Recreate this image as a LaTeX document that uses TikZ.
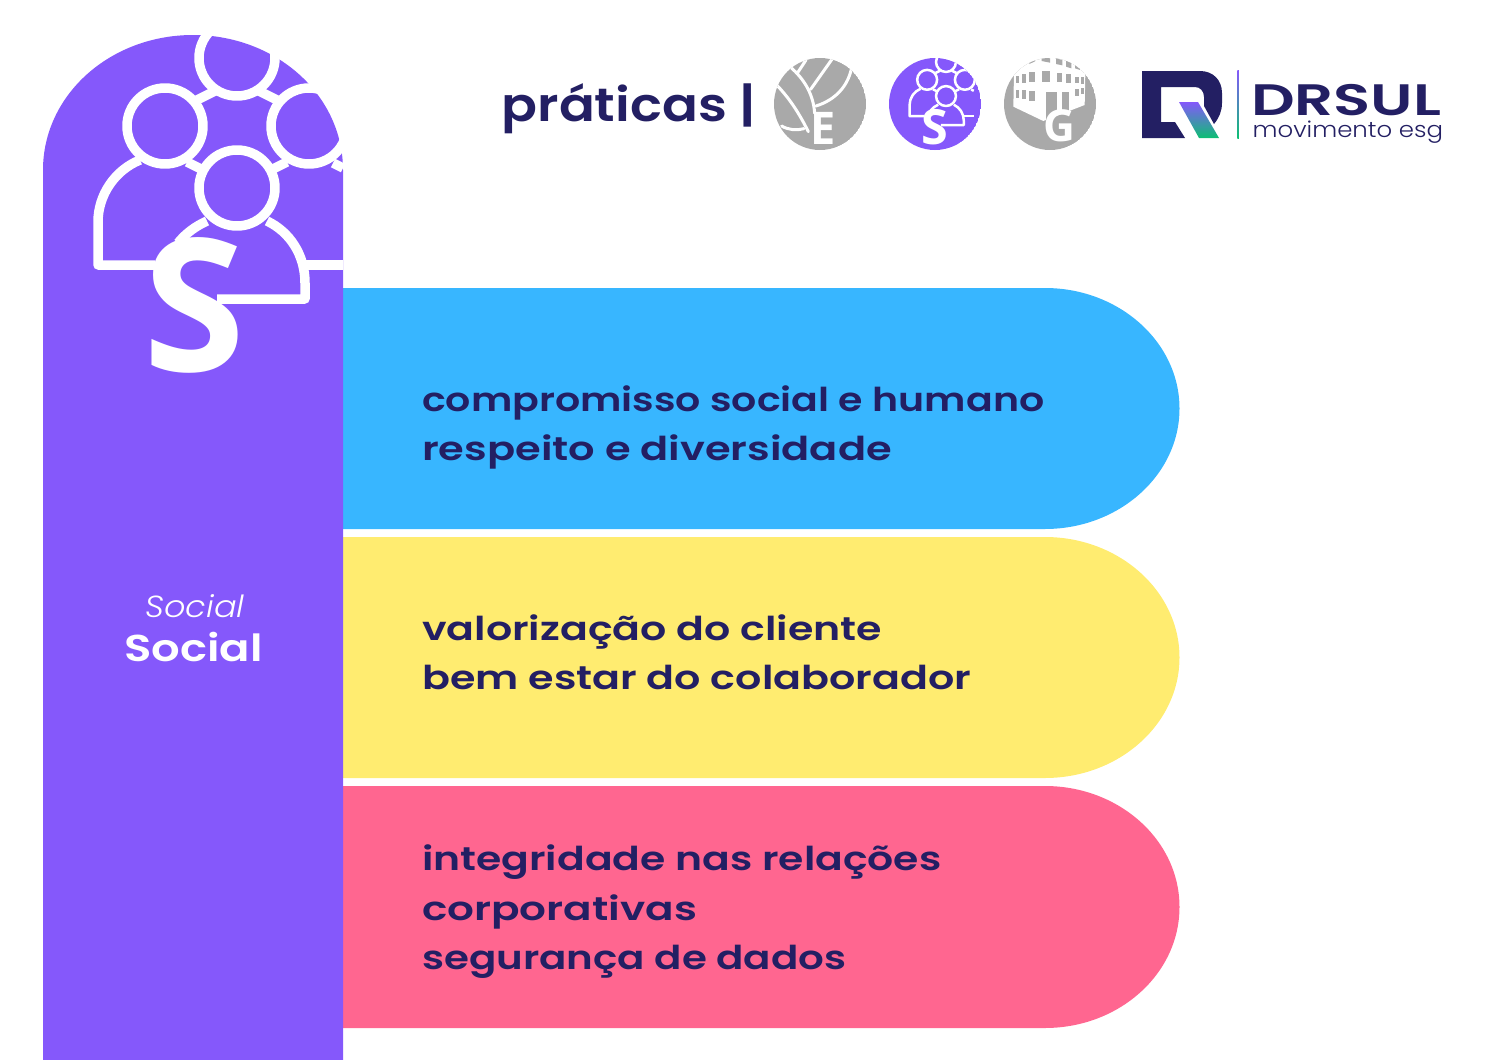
\documentclass[tikz,border=0pt]{standalone}
\usepackage{fontspec}
\usepackage{graphicx}
\usetikzlibrary{shadings}
\setmainfont{Poppins}
\newfontfamily\heavy{Poppins SemiBold}[FakeStretch=1.2]
\newfontfamily\heavyb{Poppins SemiBold}[FakeStretch=1.135]
\newfontfamily\heavyc{Poppins SemiBold}[FakeStretch=1.384]
\newfontfamily\thin{Poppins Light}[FakeStretch=1.11]
\newfontfamily\thinit{Poppins Light Italic}[FakeStretch=1.1]
\newfontfamily\opb{Open Sans Bold}
\definecolor{vio}{HTML}{8558FB}
\definecolor{sky}{HTML}{38B6FF}
\definecolor{lem}{HTML}{FFEC70}
\definecolor{ros}{HTML}{FF6690}
\definecolor{navy}{HTML}{231F63}
\definecolor{gry}{HTML}{A9A9A9}
\definecolor{grn}{HTML}{0DBF73}
\tikzset{
  item/.style={anchor=base west,inner sep=0pt,text=navy,font=\heavy\fontsize{32.9}{33}\selectfont},
  win/.style={fill=gry,draw=none},
  leaf/.style={draw=white,line width=3pt,line cap=round},
}
\newcommand{\sx}[2]{\scalebox{#1}[1]{#2}}
\newcommand{\peopleicon}[2]{%
  \begin{scope}[draw=white,line width=#1,line join=round,line cap=butt]
  \draw (237,58) circle (38);
  \draw (165,126) circle (38);
  \draw (309,126) circle (38);
  \draw (237,188) circle (38);
  \draw (140,160) .. controls (115,170) and (98,195) .. (98,222) -- (98,265) -- (155,265);
  \draw (333,163) -- (343,168);
  \draw (305,265) -- (343,265);
  \draw (197,100) -- (215,91);
  \draw (259,91) -- (277,100);
  \draw (187,162) -- (203,170);
  \draw (271,170) -- (287,162);
  \draw (207,221) .. controls (196,226) and (186,233) .. (178,243);
  \draw (267,221) .. controls (290,232) and (305,255) .. (305,283) -- (305,299) -- (217,299);
  \end{scope}
  \node[text=white,inner sep=0pt,transform shape] (#2) at (194,305) {\opb\fontsize{185}{185}\selectfont S};
}
\begin{document}
\begin{tikzpicture}[x=1pt,y=-1pt]
\useasboundingbox (0,0) rectangle (1500,1060);
% pills
\fill[sky] (343,288) -- (1045,288) .. controls (1119,288) and (1179.5,342) .. (1179.5,408.5) .. controls (1179.5,475) and (1119,529) .. (1045,529) -- (343,529) -- cycle;
\fill[lem] (343,537) -- (1045,537) .. controls (1119,537) and (1179.5,591) .. (1179.5,657.5) .. controls (1179.5,724) and (1119,778) .. (1045,778) -- (343,778) -- cycle;
\fill[ros] (343,786) -- (1045,786) .. controls (1119,786) and (1179.5,840) .. (1179.5,907) .. controls (1179.5,974) and (1119,1028) .. (1045,1028) -- (343,1028) -- cycle;
% arch
\fill[vio] (43,1060) -- (43,170) .. controls (43,95) and (110,35) .. (193,35) .. controls (276,35) and (343,95) .. (343,170) -- (343,1060) -- cycle;
\peopleicon{9.5pt}{bigS}
\node[inner sep=0pt,text=white,font=\thinit\fontsize{30.5}{30.5}\selectfont] (lab1) at (195,606) {Social};
\node[inner sep=0pt,text=white,font=\heavy\fontsize{37.4}{38}\selectfont] (lab2) at (193.5,647.5) {Social};
% list
\node[item] (a1) at (422,411.5) {compromisso social e humano};
\node[item] (a2) at (422,460.5) {\sx{1.052}{respeito e diversidade}};
\node[item] (b1) at (422,640.5) {\sx{1.041}{valorização do cliente}};
\node[item] (b2) at (422,689.5) {\sx{1.044}{bem estar do colaborador}};
\node[item] (c1) at (422,870.5) {\sx{1.036}{integridade nas relações}};
\node[item] (c2) at (422,920.5) {\sx{1.066}{corporativas}};
\node[item] (c3) at (422,969.5) {\sx{1.022}{segurança de dados}};
% header
\node[anchor=base west,inner sep=0pt,text=navy,font=\heavyb\fontsize{46.7}{47}\selectfont] (prat) at (501.5,121) {práticas |};
% E
\begin{scope}
\clip (820,104) circle (46);
\fill[gry] (820,104) circle (46);
\begin{scope}[shift={(770,50)},scale=1/3]
\draw[leaf] (15,100) .. controls (60,145) and (90,195) .. (115,245);
\draw[leaf] (62,52) .. controls (100,85) and (130,130) .. (134,190);
\draw[leaf] (122,118) -- (195,15);
\draw[leaf] (83,68) -- (108,30);
\draw[leaf] (138,168) .. controls (195,150) and (235,110) .. (246,48);
\draw[leaf] (35,228) .. controls (55,240) and (80,242) .. (102,236);
\end{scope}
\node[text=white,inner sep=0pt] (letE) at (823,128) {\opb\fontsize{45}{45}\selectfont E};
\end{scope}
% S small
\begin{scope}
\clip (935,104) circle (46);
\fill[vio] (935,104) circle (46);
\begin{scope}[shift={(946,62)},scale=.262,shift={(-237,-58)}]
\peopleicon{2.5pt}{smallS}
\end{scope}
\end{scope}
% G
\begin{scope}
\clip (1050,104) circle (46);
\fill[gry] (1050,104) circle (46);
\begin{scope}[shift={(1000,50)},scale=1/3]
\fill[white] (42,70) -- (40,170) -- (130,213) -- (254,165) -- (256,70) -- (250,0) -- (60,0) -- cycle;
\fill[win] (47,78) rectangle (58,98);
\fill[win] (65,72) rectangle (78,98);
\fill[win] (88,66) rectangle (105,95);
\fill[win] (125,62) rectangle (150,95);
\fill[win] (170,68) rectangle (187,97);
\fill[win] (198,73) rectangle (212,100);
\fill[win] (225,80) rectangle (236,100);
\fill[win] (243,82) rectangle (252,103);
\fill[win] (48,120) rectangle (58,143);
\fill[win] (65,120) rectangle (78,146);
\fill[win] (88,122) rectangle (105,152);
\fill[win] (225,117) rectangle (236,137);
\fill[win] (243,115) rectangle (252,133);
\fill[win] (125,22) -- (150,25) -- (150,38) -- (125,33) -- cycle;
\fill[win] (168,25) -- (187,30) -- (187,46) -- (168,42) -- cycle;
\fill[win] (198,32) -- (214,38) -- (214,55) -- (198,50) -- cycle;
\fill[win] (225,43) -- (240,50) -- (240,60) -- (225,55) -- cycle;
\fill[win] (88,38) -- (105,30) -- (105,34) -- (88,42) -- cycle;
\fill[win] (137,125) rectangle (170,215);
\fill[win] (185,125) rectangle (208,200);
\end{scope}
\node[text=white,inner sep=0pt] (letG) at (1059.5,125.5) {\opb\fontsize{44}{44}\selectfont G};
\end{scope}
% logo
\fill[navy] (1142,71) -- (1200,71) .. controls (1213,71) and (1222,80) .. (1222,93) -- (1222,103) .. controls (1222,111) and (1219,118) .. (1214,124) -- (1204,106) -- (1204,97) .. controls (1204,91) and (1200,87) .. (1195,87) -- (1161,87) -- (1161,122) -- (1175,122) -- (1185,138) -- (1142,138) -- cycle;
\begin{scope}
\clip (1179,102) -- (1198,102) -- (1219,138) -- (1199,138) -- cycle;
\shade[top color=vio,bottom color=grn] (1175,102) rectangle (1222,138);
\end{scope}
\shade[top color=vio,bottom color=grn] (1237.3,70) rectangle (1238.8,138);
\node[anchor=base west,inner sep=0pt,text=navy,font=\heavyc\fontsize{44}{44}\selectfont] (drsul) at (1251,115) {DRSUL};
\node[anchor=base west,inner sep=0pt,text=navy,font=\thin\fontsize{22}{22}\selectfont] (mov) at (1252.5,137) {movimento esg};
\end{tikzpicture}
\end{document}
